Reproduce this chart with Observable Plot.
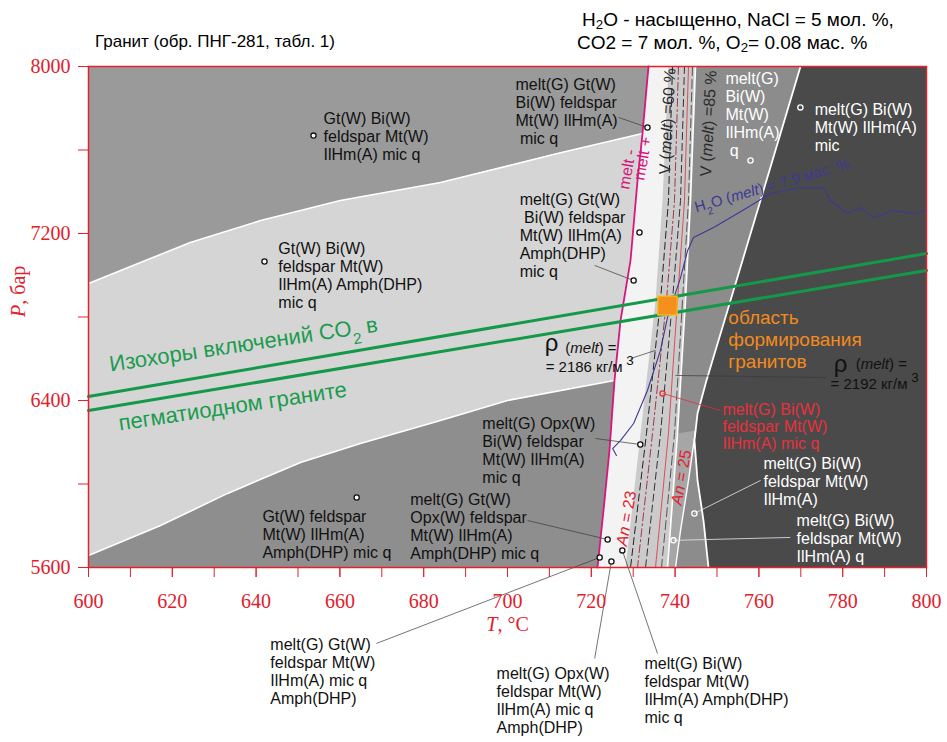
<!DOCTYPE html>
<html><head><meta charset="utf-8">
<script src="https://cdn.jsdelivr.net/npm/d3@7"></script>
<script src="https://cdn.jsdelivr.net/npm/@observablehq/plot@0.6"></script>
<style>
body{margin:0;background:#fff}
#wrap{position:relative;width:947px;height:742px;overflow:hidden}
#chart{position:absolute;left:0;top:0}
.hdr{position:absolute;font-family:"Liberation Sans",Arial,sans-serif;color:#000;white-space:nowrap}
.hdr sub{font-size:70%;vertical-align:-0.2em;line-height:0}
</style>
</head><body>
<div id="wrap">
<div id="chart"></div>
<div class="hdr" style="left:95px;top:32px;font-size:17px;line-height:19px">Гранит (обр. ПНГ-281, табл. 1)</div>
<div class="hdr" style="left:582px;top:10px;font-size:19px;line-height:19px">H<sub>2</sub>O - насыщенно, NaCl = 5 мол. %,</div>
<div class="hdr" style="left:577px;top:33px;font-size:19px;line-height:19px">CO2 = 7 мол. %, O<sub>2</sub>= 0.08 мас. %</div>
</div>
<script>
// ---------- axes ----------
const T_DOMAIN = [600, 800];
const P_DOMAIN = [5600, 8000];
const xTickLabels = [600,620,640,660,680,700,720,740,760,780,800];
const xMinorTicks = [600,610,620,630,640,650,660,670,680,690,700,710,720,730,740,750,760,770,780,790,800];
const yTickLabels = [5600,6400,7200,8000];
const yMinorTicks = [5600,6000,6400,6800,7200,7600,8000];

// ---------- field boundaries (T °C, P бар) ----------
const upperBoundary = [[600,6961],[612.4,7061],[624.3,7157],[641.1,7262],[660.1,7358],[684.0,7444],[711.9,7583],[732.2,7679]];
const lowerBoundary = [[600,5658],[617.2,5801],[633.2,5955],[650.6,6103],[664.9,6194],[684.0,6304],[700.0,6400],[725.5,6496]];
const meltLine = [[733.65,8000],[732.22,7679],[731.03,7454],[729.36,7071],[726.97,6783],[725.54,6496],[724.34,6161],[722.91,5873],[721.48,5600]];
const strip1Edge = [[738.42,8000],[736.99,7358],[735.32,6879],[731.74,6242],[728.16,5600]];
const strip2Edge = [[744.87,8000],[743.68,7358],[742.48,6879],[740.57,6242],[738.19,5600]];
const darkEdge = [[769.93,8000],[765.16,7679],[760.38,7358],[756.09,7071],[751.79,6783],[747.49,6496],[745.35,6338],[744.63,6209],[745.35,6017],[746.78,5825],[747.97,5600]];
const an25Edge = [[744.87,6256],[743.20,6017],[741.29,5777],[740.10,5600]];

// isolines inside the narrow melt field
const isoBlack1 = [[739.38,8000],[738.42,7358],[736.52,6879],[733.17,6242],[729.36,5600]];
const isoBrown = [[740.81,8000],[739.86,7358],[737.95,6879],[734.61,6242],[731.03,5600]];
const isoBlack2 = [[742.24,8000],[741.29,7358],[739.38,6879],[736.52,6242],[732.94,5600]];
const isoRed = [[743.20,8000],[742.24,7358],[740.57,6879],[738.42,6242],[735.32,5600]];
const isoGray = [[744.15,8000],[743.20,7358],[741.77,6879],[739.86,6242],[736.75,5600]];

// H2O (melt) = 7.9 mass %
const h2oLine = [[726.0,6137],[725.1,6170],[727.0,6209],[730.1,6290],[733.4,6448],[736.5,6640],[738.2,6798],[741.3,6989],[743.0,7119],[744.4,7181],[749.2,7229],[757.3,7325],[762.8,7392],[769.9,7420],[775.4,7420],[777.1,7358],[781.1,7296],[784.2,7325],[787.4,7277],[792.1,7310],[796.9,7296],[800,7310]];

// CO2 inclusion isochores
const isochore1 = [[600,6419],[800,7104]];
const isochore2 = [[600,6352],[800,7023]];

// granite formation field
const formation = [{T1:736.0, T2:740.6, P1:6807, P2:6898}];

// ---------- labels ----------
const blackLabels = [
 {T:656.1, P:7784, text:"Gt(W) Bi(W)\nfeldspar Mt(W)\nIlHm(A) mic q"},
 {T:645.3, P:7162, text:"Gt(W) Bi(W)\nfeldspar Mt(W)\nIlHm(A) Amph(DHP)\nmic q"},
 {T:641.5, P:5878, text:"Gt(W) feldspar\nMt(W) IlHm(A)\nAmph(DHP) mic q"},
 {T:676.8, P:5959, text:"melt(G) Gt(W)\nOpx(W) feldspar\nMt(W) IlHm(A)\nAmph(DHP) mic q"},
 {T:694.0, P:6324, text:"melt(G) Opx(W)\nBi(W) feldspar\nMt(W) IlHm(A)\nmic q"},
 {T:702.9, P:7396, text:"melt(G) Gt(W)\n\u00a0Bi(W) feldspar\nMt(W) IlHm(A)\nAmph(DHP)\nmic q"},
 {T:701.9, P:7947, text:"melt(G) Gt(W)\nBi(W) feldspar\nMt(W) IlHm(A)\n\u00a0mic q"},
 {T:643.4, P:5265, text:"melt(G) Gt(W)\nfeldspar Mt(W)\nIlHm(A) mic q\nAmph(DHP)"},
 {T:697.4, P:5126, text:"melt(G) Opx(W)\nfeldspar Mt(W)\nIlHm(A) mic q\nAmph(DHP)"},
 {T:732.7, P:5174, text:"melt(G) Bi(W)\nfeldspar Mt(W)\nIlHm(A) Amph(DHP)\nmic q"}
];
const whiteLabels = [
 {T:752.0, P:7976, text:"melt(G)\nBi(W)\nMt(W)\nIlHm(A)\n\u00a0q"},
 {T:773.3, P:7828, text:"melt(G) Bi(W)\nMt(W) IlHm(A)\nmic"},
 {T:761.1, P:6132, text:"melt(G) Bi(W)\nfeldspar Mt(W)\nIlHm(A)"},
 {T:769.0, P:5859, text:"melt(G) Bi(W)\nfeldspar Mt(W)\nIlHm(A) q"}
];
const redLabels = [{T:751.3, P:6391, text:"melt(G) Bi(W)\nfeldspar Mt(W)\nIlHm(A) mic q"}];
const orangeLabels = [
 {T:752.7, P:6798, text:"область"},
 {T:752.7, P:6692, text:"формирования"},
 {T:752.7, P:6587, text:"гранитов"}
];
const rhoSymbols = [{T:710.5, P:6672}, {T:779.5, P:6575}];
const rhoTexts = [
 {T:713.8, P:6649, text:"(melt) ="},
 {T:709.1, P:6558, text:"= 2186 кг/м³"},
 {T:783.1, P:6573, text:"(melt) ="},
 {T:777.1, P:6478, text:"= 2192 кг/м³"}
];
const meltLabels = [
 {T:728.6, P:7507, text:"melt -"},
 {T:732.3, P:7559, text:"melt +"}
];
const volumeLabels = [
 {T:738.2, P:7737, text:"V (melt) =60 %"},
 {T:748.0, P:7727, text:"V (melt) =85 %"}
];
const anLabels = [
 {T:728.4, P:5835, text:"An = 23"},
 {T:741.5, P:6031, text:"An = 25"}
];
const h2oLabel = [{T:763.2, P:7430, text:"H₂O (melt) = 7.9 мас. %"}];
const isochoreLabels = [
 {T:637.0, P:6668, text:"Изохоры включений CO₂ в"},
 {T:634.4, P:6371, text:"пегматиодном граните"}
];
const axisTitles = {x:"T, °C", y:"P, бар"};

// ---------- points and leaders ----------
const dotsBlack = [[653.7,7669],[642.0,7066],[664.0,5935],[733.4,7708],[731.5,7205],[730.1,6975],[731.7,6189],[723.9,5734],[722.0,5648],[724.8,5629],[727.4,5682]];
const dotsWhite = [[744.6,5859],[739.6,5730],[758.0,7550],[769.9,7804]];
const dotsRed = [[737.0,6434]];
const grayLeaders = [
 [[726.5,7756],[733.4,7708]],
 [[720.8,7047],[730.1,6975]],
 [[721.0,6218],[731.7,6189]],
 [[704.8,5825],[723.9,5734]],
 [[668.7,5236],[722.0,5648]],
 [[720.8,5164],[724.8,5629]],
 [[735.8,5188],[727.4,5682]],
 [[729.4,6601],[735.3,6640]],
 [[740.1,6520],[776.1,6510]]
];
const whiteLeaders = [[[760.4,6017],[744.6,5859]], [[767.5,5744],[739.6,5730]]];
const redLeaders = [[[737.0,6434],[750.8,6352]]];

// ---------- derived polygons ----------
const TL = [[T_DOMAIN[0],P_DOMAIN[1]], ...meltLine.slice(0,2), ...upperBoundary.slice().reverse()];
const LB = [...upperBoundary, ...meltLine.slice(2,6), ...lowerBoundary.slice().reverse()];
const BL = [...lowerBoundary, ...meltLine.slice(6), [T_DOMAIN[0],P_DOMAIN[0]]];
const S1 = [...meltLine, ...strip1Edge.slice().reverse()];
const S2 = [...strip1Edge, ...strip2Edge.slice().reverse()];
const S3 = [...strip2Edge, ...darkEdge.slice().reverse()];
const W1 = [strip2Edge[3], ...an25Edge, strip2Edge[4]];
const DK = [...darkEdge, [T_DOMAIN[1],P_DOMAIN[0]], [T_DOMAIN[1],P_DOMAIN[1]]];

const RED = "#e3202d";
const SERIF = '"Liberation Serif","Times New Roman",serif';
const px = d => d[0], py = d => d[1];
const poly = (pts, fill) => Plot.line(pts, {x: px, y: py, fill, stroke: "none", curve: "linear-closed"});
const ln = (pts, o) => Plot.line(pts, {x: px, y: py, ...o});
const lk = (arr, o) => Plot.link(arr, {x1: d=>d[0][0], y1: d=>d[0][1], x2: d=>d[1][0], y2: d=>d[1][1], ...o});
const lbl = (arr, o) => Plot.text(arr, {x: "T", y: "P", text: "text", textAnchor: "start", lineAnchor: "top", fontSize: 16, lineHeight: 1.12, ...o});

const chart = Plot.plot({
  width: 947, height: 742,
  marginLeft: 88, marginRight: 21, marginTop: 66, marginBottom: 175,
  x: {domain: T_DOMAIN, label: null},
  y: {domain: P_DOMAIN, label: null},
  style: {fontFamily: '"Liberation Sans", Arial, sans-serif', fontSize: "16px", background: "transparent", overflow: "visible"},
  marks: [
    poly(TL, "#9a9a9a"),
    poly(LB, "#d5d5d5"),
    poly(BL, "#8e8e8e"),
    poly(S1, "#f3f3f3"),
    poly(S2, "#cbcbcb"),
    poly(S3, "#8c8c8c"),
    poly(W1, "#a6a6a6"),
    poly(DK, "#4a4a4a"),
    ln(upperBoundary, {stroke: "white", strokeWidth: 1.6}),
    ln(lowerBoundary, {stroke: "white", strokeWidth: 1.6}),
    ln(strip2Edge, {stroke: "white", strokeWidth: 1.6}),
    ln(darkEdge, {stroke: "white", strokeWidth: 1.8}),
    ln(an25Edge, {stroke: "white", strokeWidth: 1.4}),
    ln(isoBlack1, {stroke: "#222", strokeWidth: 1, strokeDasharray: "7,4"}),
    ln(isoBrown, {stroke: "#a3364d", strokeWidth: 1, strokeDasharray: "8,3,2,3"}),
    ln(isoBlack2, {stroke: "#333", strokeWidth: 1, strokeDasharray: "7,4"}),
    ln(isoRed, {stroke: "#d8323e", strokeWidth: 0.8}),
    ln(isoGray, {stroke: "#555", strokeWidth: 1, strokeDasharray: "9,4"}),
    ln(meltLine, {stroke: "#d6177d", strokeWidth: 1.8}),
    ln(h2oLine, {stroke: "#3b3a94", strokeWidth: 1.1}),
    ln(isochore1, {stroke: "#14984a", strokeWidth: 3}),
    ln(isochore2, {stroke: "#14984a", strokeWidth: 3}),
    Plot.rect(formation, {x1: "T1", x2: "T2", y1: "P1", y2: "P2", fill: "#f5901c", stroke: "#f4c21c", strokeWidth: 1.2}),
    lk(grayLeaders, {stroke: "#3a3a3a", strokeWidth: 0.7}),
    lk(whiteLeaders, {stroke: "#e8e8e8", strokeWidth: 0.8}),
    lk(redLeaders, {stroke: "#e0303a", strokeWidth: 0.8}),
    Plot.dot(dotsBlack, {x: px, y: py, r: 2.6, stroke: "#111", fill: "white", strokeWidth: 1.3}),
    Plot.dot(dotsWhite, {x: px, y: py, r: 2.6, stroke: "white", fill: "none", strokeWidth: 1.3}),
    Plot.dot(dotsRed, {x: px, y: py, r: 2.6, stroke: "#e0303a", fill: "none", strokeWidth: 1.3}),
    lbl(blackLabels, {fill: "#111"}),
    lbl(whiteLabels, {fill: "white"}),
    lbl(redLabels, {fill: "#e8313c", lineHeight: 1.07}),
    Plot.text(orangeLabels, {x: "T", y: "P", text: "text", textAnchor: "start", fontSize: 19, fill: "#f28a1e"}),
    Plot.text(rhoSymbols, {x: "T", y: "P", text: () => "ρ", fontSize: 24, fill: "#111"}),
    Plot.text(rhoTexts, {x: "T", y: "P", text: "text", textAnchor: "start", fontSize: 15, fill: "#111"}),
    Plot.text(meltLabels, {x: "T", y: "P", text: "text", rotate: -80, fontSize: 16, fill: "#d6177d"}),
    Plot.text(volumeLabels, {x: "T", y: "P", text: "text", rotate: -87, fontSize: 16, fill: "#2a2a2a"}),
    Plot.text(anLabels, {x: "T", y: "P", text: "text", rotate: -80, fontSize: 16, fill: "#e3202d"}),
    Plot.text(h2oLabel, {x: "T", y: "P", text: "text", rotate: -16, fontSize: 15, fill: "#3b3a94"}),
    Plot.text(isochoreLabels, {x: "T", y: "P", text: "text", rotate: -8.5, fontSize: 22, fill: "#1a9c4e"}),
    Plot.frame({stroke: RED, strokeWidth: 1.5}),
    Plot.axisX({ticks: xMinorTicks, tickSize: 10, tickFormat: () => "", color: RED, label: null}),
    Plot.axisX({ticks: xTickLabels, tickSize: 10, tickPadding: 16, tickFormat: "d", color: RED, fontSize: 20, fontFamily: SERIF, label: null}),
    Plot.axisY({ticks: yMinorTicks, tickSize: 10, tickFormat: () => "", color: RED, label: null}),
    Plot.axisY({ticks: yTickLabels, tickSize: 10, tickPadding: 8, tickFormat: "d", color: RED, fontSize: 20, fontFamily: SERIF, label: null}),
    Plot.text([axisTitles.y], {frameAnchor: "left", dx: -70, rotate: -90, fontSize: 20, fontFamily: SERIF, fill: RED}),
    Plot.text([axisTitles.x], {frameAnchor: "bottom", dy: 63, fontSize: 20, fontFamily: SERIF, fill: RED})
  ]
});
document.getElementById("chart").appendChild(chart);

// rich text: italics, subscripts, superscripts
(function richify(svg){
  const walker = document.createTreeWalker(svg, NodeFilter.SHOW_TEXT);
  const nodes = []; while (walker.nextNode()) nodes.push(walker.currentNode);
  const NS = "http://www.w3.org/2000/svg";
  for (const n of nodes) {
    const s = n.nodeValue;
    const re = /(\(melt\))|(^P(?=, бар))|(^T(?=, °C))|(An(?= = ))|(₂)|(³)/g;
    if (!re.test(s)) continue;
    re.lastIndex = 0;
    const frag = document.createDocumentFragment();
    let last = 0, m;
    while ((m = re.exec(s))) {
      if (m.index > last) frag.appendChild(document.createTextNode(s.slice(last, m.index)));
      const t = document.createElementNS(NS, "tspan");
      if (m[1]) {
        frag.appendChild(document.createTextNode("("));
        t.setAttribute("font-style", "italic"); t.textContent = "melt"; frag.appendChild(t);
        frag.appendChild(document.createTextNode(")"));
      } else if (m[5]) {
        t.setAttribute("font-size", "70%"); t.setAttribute("baseline-shift", "sub"); t.textContent = "2"; frag.appendChild(t);
      } else if (m[6]) {
        t.setAttribute("font-size", "90%"); t.setAttribute("baseline-shift", "super"); t.textContent = "\u00a03"; frag.appendChild(t);
      } else {
        t.setAttribute("font-style", "italic"); t.textContent = m[0]; frag.appendChild(t);
      }
      last = m.index + m[0].length;
    }
    if (last < s.length) frag.appendChild(document.createTextNode(s.slice(last)));
    n.parentNode.replaceChild(frag, n);
  }
})(chart);
</script>
</body></html>
